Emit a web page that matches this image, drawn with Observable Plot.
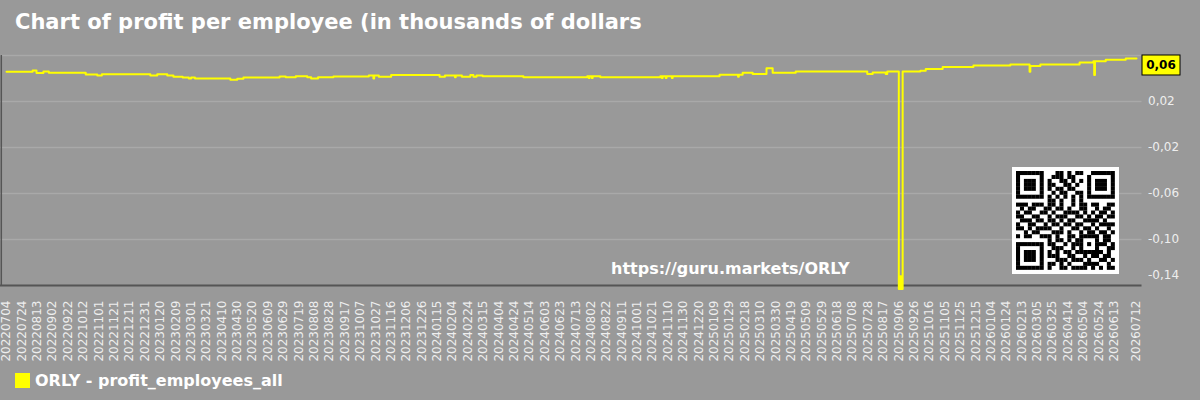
<!DOCTYPE html>
<html>
<head>
<meta charset="utf-8">
<script src="https://cdn.jsdelivr.net/npm/d3@7"></script>
<script src="https://cdn.jsdelivr.net/npm/@observablehq/plot@0.6"></script>
<style>
  html, body { margin: 0; padding: 0; background: #999999; width: 1200px; height: 400px; overflow: hidden; font-family: "DejaVu Sans", sans-serif; }
  #wrap { position: relative; width: 1200px; height: 400px; }
  #chart { position: absolute; left: 0; top: 0; }
  #title { position: absolute; left: 15px; top: 12px; font-size: 21px; font-weight: bold; color: #ffffff; white-space: nowrap; line-height: 1; }
  #wm { position: absolute; left: 611px; top: 261px; font-size: 16px; font-weight: bold; color: #ffffff; white-space: nowrap; line-height: 1; }
  #legend { position: absolute; left: 15px; top: 373px; display: flex; align-items: center; font-size: 16px; font-weight: bold; color: #ffffff; white-space: nowrap; line-height: 15px; }
  #legend .sw { width: 15px; height: 15px; background: #ffff00; margin-right: 5px; }
</style>
</head>
<body>
<div id="wrap">
  <div id="chart"></div>
  <div id="title">Chart of profit per employee (in thousands of dollars</div>
  <div id="wm">https://guru.markets/ORLY</div>
  <div id="legend"><div class="sw"></div><span>ORLY - profit_employees_all</span></div>
</div>
<script>
// ---- data (change points of the series) ----
const seriesName = "ORLY - profit_employees_all";
const dates = [
  "20220704","20220807","20220812","20220821","20220828","20221015","20221030","20221105",
  "20230107","20230116","20230129","20230206","20230218","20230226","20230301","20230306",
  "20230421","20230430","20230508","20230624","20230702","20230715","20230730","20230804",
  "20230813","20230902","20231018","20231024","20231025","20231031","20231116",
  "20240118","20240125","20240207","20240208","20240216","20240227","20240302","20240306",
  "20240314","20240506","20240728","20240730","20240731","20240803","20240804","20240814",
  "20241031","20241102","20241103","20241107","20241108","20241115","20241116",
  "20250116","20250209","20250210","20250215","20250228","20250318","20250326","20250425",
  "20250727","20250803","20250820","20250822","20250906","20250908","20250909","20250911",
  "20251004","20251011","20251102","20251212","20260129","20260223","20260224","20260309",
  "20260429","20260517","20260518","20260519","20260602","20260628","20260712"
];
const values = [
  0.0458, 0.0470, 0.0447, 0.0460, 0.0450, 0.0435, 0.0426, 0.0438,
  0.0426, 0.0438, 0.0426, 0.0415, 0.0409, 0.0400, 0.0409, 0.0400,
  0.0389, 0.0397, 0.0409, 0.0417, 0.0410, 0.0420, 0.0410, 0.0400,
  0.0410, 0.0417, 0.0426, 0.0400, 0.0426, 0.0415, 0.0430,
  0.0415, 0.0426, 0.0410, 0.0426, 0.0415, 0.0430, 0.0415, 0.0426,
  0.0420, 0.0410, 0.0420, 0.0405, 0.0420, 0.0405, 0.0420, 0.0410,
  0.0420, 0.0405, 0.0420, 0.0405, 0.0420, 0.0405, 0.0420,
  0.0432, 0.0415, 0.0432, 0.0450, 0.0440, 0.0490, 0.0450, 0.0460,
  0.0440, 0.0452, 0.0440, 0.0460, -0.1430, -0.1320, -0.1430, 0.0460,
  0.0467, 0.0482, 0.0500, 0.0513, 0.0522, 0.0458, 0.0508, 0.0522,
  0.0540, 0.0551, 0.0430, 0.0551, 0.0563, 0.0574, 0.0574
];
const xTickLabels = [
  "20220704","20220724","20220813","20220902","20220922","20221012","20221101","20221121","20221211","20221231",
  "20230120","20230209","20230301","20230321","20230410","20230430","20230520","20230609","20230629","20230719",
  "20230808","20230828","20230917","20231007","20231027","20231116","20231206","20231226",
  "20240115","20240204","20240224","20240315","20240404","20240424","20240514","20240603","20240623","20240713",
  "20240802","20240822","20240911","20241001","20241021","20241110","20241130","20241220",
  "20250109","20250129","20250218","20250310","20250330","20250419","20250509","20250529","20250618","20250708",
  "20250728","20250817","20250906","20250926","20251016","20251105","20251125","20251215",
  "20260104","20260124","20260213","20260305","20260325","20260414","20260504","20260524","20260613","20260712"
];
const yTickValues = [0.02, -0.02, -0.06, -0.10, -0.14];
const gridValues = [0.06, 0.02, -0.02, -0.06, -0.10];
const yDomain = [-0.14, 0.06];

// QR code modules (decorative image), rows of 25
const qrRows = [
  "1111111000110101100111111",
  "1000001001110110001000001",
  "1011101010011010101011101",
  "1011101011001101001011101",
  "1011101010110110001011101",
  "1000001001011001101000001",
  "1111111010101010101111111",
  "0000000011010010100000000",
  "1110111011010010110110011",
  "0101100110110100110010110",
  "1011001101001111010101101",
  "1100110010111001101011011",
  "0111011011010110011110100",
  "1001100101101101100101111",
  "1101011110010011011010010",
  "0010110001110100101101101",
  "1011001110100110111110110",
  "0000000010110101100010110",
  "1111111011001011101011101",
  "1000001001110010100010011",
  "1011101010101101111111010",
  "1011101011100110010110110",
  "1011101000111011101001101",
  "1000001011010100011110010",
  "1111111010011011110101011"
];

// ---- chart ----
const parse = d3.utcParse("%Y%m%d");
const data = dates.map((d, i) => ({date: parse(d), value: values[i]}));
const xTicks = xTickLabels.map(parse);
const fmt = v => v.toFixed(2).replace(".", ",");

const chart = Plot.plot({
  width: 1200,
  height: 400,
  marginTop: 55,
  marginBottom: 115,
  marginLeft: 0,
  marginRight: 58.5,
  style: {background: "transparent", fontFamily: "DejaVu Sans, sans-serif", fontSize: "12px", overflow: "visible"},
  x: {type: "utc", domain: [xTicks[0], xTicks[xTicks.length - 1]], insetLeft: 6, insetRight: 5.5},
  y: {domain: yDomain, axis: null},
  marks: [
    Plot.ruleY(gridValues, {stroke: "#a9a9a9", strokeWidth: 1.5}),
    Plot.ruleY([yDomain[0]], {stroke: "#555555", strokeWidth: 2}),
    Plot.ruleX([xTicks[0]], {stroke: "#555555", strokeWidth: 1.5, dx: -5.2}),
    Plot.axisX({ticks: xTicks, tickFormat: d3.utcFormat("%Y%m%d"), tickRotate: -90, tickSize: 0, tickPadding: 15, fontSize: 12, fill: "#eeeeee", label: null}),
    Plot.text(yTickValues.slice(0, -1), {y: d => d, text: fmt, frameAnchor: "right", textAnchor: "start", dx: 6, fill: "#eeeeee", fontSize: 12}),
    Plot.text(yTickValues.slice(-1), {y: d => d, text: fmt, frameAnchor: "right", textAnchor: "start", dx: 6, dy: -10, fill: "#eeeeee", fontSize: 12}),
    Plot.line(data, {x: "date", y: "value", stroke: "#ffff00", strokeWidth: 2, curve: "step-after"})
  ]
});
document.getElementById("chart").appendChild(chart);

// last-value label using the chart scales
const svg = d3.select(chart);
const sx = chart.scale("x"), sy = chart.scale("y");
const last = data[data.length - 1];
const lx = sx.apply(last.date) + 6, ly = sy.apply(last.value);
const lab = svg.append("g");
lab.append("rect").attr("x", lx).attr("y", ly - 3).attr("width", 38).attr("height", 20)
  .attr("fill", "#ffff00").attr("stroke", "#000000").attr("stroke-width", 1);
lab.append("text").attr("x", lx + 19).attr("y", ly + 7.5).attr("text-anchor", "middle")
  .attr("dominant-baseline", "central").attr("font-weight", "bold").attr("font-size", 12)
  .attr("fill", "#000000").attr("font-family", "DejaVu Sans, sans-serif").text(fmt(last.value));

// QR image
const qr = svg.append("g").attr("transform", "translate(1012,167)");
qr.append("rect").attr("width", 107).attr("height", 107).attr("fill", "#ffffff");
const m = 3.95;
qrRows.forEach((row, r) => {
  [...row].forEach((c, k) => {
    if (c === "1") qr.append("rect").attr("x", 4 + k * m).attr("y", 4 + r * m).attr("width", m + 0.1).attr("height", m + 0.1).attr("fill", "#000000");
  });
});
</script>
</body>
</html>
